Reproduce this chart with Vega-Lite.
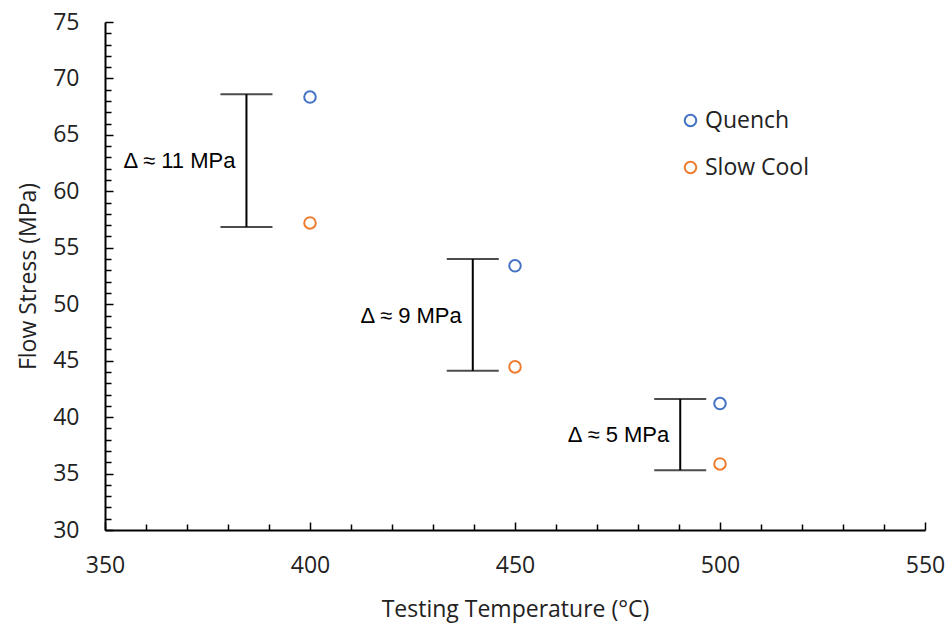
{
  "$schema": "https://vega.github.io/schema/vega-lite/v6.json",
  "width": 820,
  "height": 508,
  "autosize": "none",
  "padding": {"left": 105, "top": 22, "right": 27, "bottom": 96},
  "background": "white",
  "config": {
    "view": {"stroke": null},
    "font": "Open Sans",
    "axis": {
      "grid": false,
      "domainColor": "black",
      "domainWidth": 2,
      "tickColor": "black",
      "tickWidth": 1.5,
      "labelFont": "Open Sans",
      "labelFontSize": 23,
      "labelColor": "#222",
      "labelOverlap": false,
      "labelFlush": false,
      "titleFont": "Open Sans",
      "titleFontSize": 23,
      "titleFontWeight": "normal",
      "titleColor": "#222"
    }
  },
  "datasets": {
    "points": [
      {"temp": 400, "stress": 68.35, "series": "Quench"},
      {"temp": 400, "stress": 57.2, "series": "Slow Cool"},
      {"temp": 450, "stress": 53.4, "series": "Quench"},
      {"temp": 450, "stress": 44.45, "series": "Slow Cool"},
      {"temp": 500, "stress": 41.2, "series": "Quench"},
      {"temp": 500, "stress": 35.85, "series": "Slow Cool"}
    ],
    "bars": [
      {"temp": 384.5, "stress": 56.85, "stress2": 68.6},
      {"temp": 439.7, "stress": 44.1, "stress2": 54.0},
      {"temp": 490.3, "stress": 35.3, "stress2": 41.6}
    ],
    "caps": [
      {"temp": 384.5, "stress": 56.85},
      {"temp": 384.5, "stress": 68.6},
      {"temp": 439.7, "stress": 44.1},
      {"temp": 439.7, "stress": 54.0},
      {"temp": 490.3, "stress": 35.3},
      {"temp": 490.3, "stress": 41.6}
    ],
    "labels": [
      {"temp": 384.5, "stress": 62.7, "label": "Δ ≈ 11 MPa"},
      {"temp": 439.7, "stress": 49.0, "label": "Δ ≈ 9 MPa"},
      {"temp": 490.3, "stress": 38.4, "label": "Δ ≈ 5 MPa"}
    ]
  },
  "encoding": {
    "x": {"field": "temp", "type": "quantitative", "scale": {"domain": [350, 550], "nice": false, "zero": false},
      "axis": {
        "title": "Testing Temperature (°C)",
        "values": [350,360,370,380,390,400,410,420,430,440,450,460,470,480,490,500,510,520,530,540,550],
        "labelExpr": "datum.value % 50 === 0 ? datum.label : ''",
        "tickSize": {"condition": {"test": "datum.value % 50 === 0", "value": -8}, "value": -6},
        "labelOverlap": false,
        "labelPadding": 32,
        "titlePadding": 19
      }},
    "y": {"field": "stress", "type": "quantitative", "scale": {"domain": [30, 75], "nice": false, "zero": false},
      "axis": {
        "title": "Flow Stress (MPa)",
        "values": [30,31,32,33,34,35,36,37,38,39,40,41,42,43,44,45,46,47,48,49,50,51,52,53,54,55,56,57,58,59,60,61,62,63,64,65,66,67,68,69,70,71,72,73,74,75],
        "labelExpr": "datum.value % 5 === 0 ? datum.label : ''",
        "labelFontSize": {"condition": {"test": "datum.value % 5 === 0", "value": 23}, "value": 1},
        "tickSize": {"condition": {"test": "datum.value % 5 === 0", "value": -8}, "value": -6},
        "labelOverlap": false,
        "labelBound": false,
        "labelPadding": 34,
        "titlePadding": 12
      }}
  },
  "layer": [
    {
      "data": {"name": "bars"},
      "mark": {"type": "rule", "color": "black", "strokeWidth": 2},
      "encoding": {"y2": {"field": "stress2"}}
    },
    {
      "data": {"name": "caps"},
      "mark": {"type": "tick", "color": "black", "orient": "horizontal", "size": 52, "thickness": 2},
      "encoding": {}
    },
    {
      "data": {"name": "labels"},
      "mark": {"type": "text", "align": "right", "baseline": "middle", "dx": -11, "font": "Liberation Sans", "fontSize": 22, "color": "black"},
      "encoding": {"text": {"field": "label"}}
    },
    {
      "data": {"name": "points"},
      "mark": {"type": "point", "shape": "circle", "filled": false, "size": 133, "strokeWidth": 2, "opacity": 1},
      "encoding": {
        "color": {
          "field": "series", "type": "nominal",
          "scale": {"domain": ["Quench", "Slow Cool"], "range": ["#4472C4", "#ED7D31"]},
          "legend": {
            "title": null,
            "orient": "none",
            "legendX": 574,
            "legendY": 87,
            "symbolType": "circle",
            "symbolSize": 133,
            "symbolStrokeWidth": 2,
            "symbolFillColor": "transparent",
            "labelFont": "Open Sans",
            "labelFontSize": 23,
            "labelColor": "#222",
            "labelOffset": 3,
            "rowPadding": 23
          }
        }
      }
    }
  ]
}
